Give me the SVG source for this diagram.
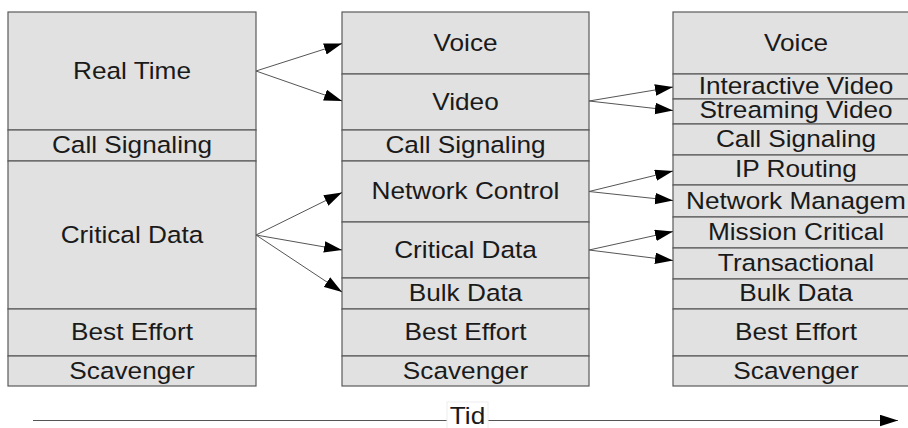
<svg xmlns="http://www.w3.org/2000/svg" width="908" height="428" viewBox="0 0 908 428">
<defs>
<style>
.c rect{fill:#e1e1e1;stroke:#5a5a5a;stroke-width:1.2}
text{font-family:"Liberation Sans",Arial,sans-serif;font-size:24.5px;fill:#1a1a1a;text-anchor:middle}
.con line{stroke:#555;stroke-width:1}
</style>
<marker id="ah" markerUnits="userSpaceOnUse" markerWidth="19" markerHeight="12" refX="18" refY="5.75" orient="auto">
<path d="M0,0 L18,5.75 L0,11.5 z" fill="#000"/>
</marker>
</defs>
<rect width="908" height="428" fill="#fff"/>

<g id="col1">
<g id="c1-realtime" class="c"><rect x="8" y="12" width="248" height="118"/><text transform="translate(132 79) scale(1.07 1)">Real Time</text></g>
<g id="c1-callsig" class="c"><rect x="8" y="130" width="248" height="31"/><text transform="translate(132 153) scale(1.07 1)">Call Signaling</text></g>
<g id="c1-critical" class="c"><rect x="8" y="161" width="248" height="148"/><text transform="translate(132 243) scale(1.07 1)">Critical Data</text></g>
<g id="c1-besteffort" class="c"><rect x="8" y="309" width="248" height="47"/><text transform="translate(132 340) scale(1.07 1)">Best Effort</text></g>
<g id="c1-scavenger" class="c"><rect x="8" y="356" width="248" height="30"/><text transform="translate(132 379) scale(1.07 1)">Scavenger</text></g>
</g>

<g id="col2">
<g id="c2-voice" class="c"><rect x="342" y="12" width="247" height="62"/><text transform="translate(465.5 51) scale(1.07 1)">Voice</text></g>
<g id="c2-video" class="c"><rect x="342" y="74" width="247" height="56"/><text transform="translate(465.5 110) scale(1.07 1)">Video</text></g>
<g id="c2-callsig" class="c"><rect x="342" y="130" width="247" height="31"/><text transform="translate(465.5 153) scale(1.07 1)">Call Signaling</text></g>
<g id="c2-netctrl" class="c"><rect x="342" y="161" width="247" height="61"/><text transform="translate(465.5 199) scale(1.07 1)">Network Control</text></g>
<g id="c2-critical" class="c"><rect x="342" y="222" width="247" height="56"/><text transform="translate(465.5 258) scale(1.07 1)">Critical Data</text></g>
<g id="c2-bulk" class="c"><rect x="342" y="278" width="247" height="31"/><text transform="translate(465.5 301) scale(1.07 1)">Bulk Data</text></g>
<g id="c2-besteffort" class="c"><rect x="342" y="309" width="247" height="47"/><text transform="translate(465.5 340) scale(1.07 1)">Best Effort</text></g>
<g id="c2-scavenger" class="c"><rect x="342" y="356" width="247" height="30"/><text transform="translate(465.5 379) scale(1.07 1)">Scavenger</text></g>
</g>

<g id="col3">
<g id="c3-voice" class="c"><rect x="673" y="12" width="247" height="62"/><text transform="translate(796 51) scale(1.07 1)">Voice</text></g>
<g id="c3-interactive" class="c"><rect x="673" y="74" width="247" height="25"/><text transform="translate(796 94) scale(1.07 1)">Interactive Video</text></g>
<g id="c3-streaming" class="c"><rect x="673" y="99" width="247" height="25"/><text transform="translate(796 118) scale(1.07 1)">Streaming Video</text></g>
<g id="c3-callsig" class="c"><rect x="673" y="124" width="247" height="31"/><text transform="translate(796 147) scale(1.07 1)">Call Signaling</text></g>
<g id="c3-iprouting" class="c"><rect x="673" y="155" width="247" height="30"/><text transform="translate(796 177) scale(1.07 1)">IP Routing</text></g>
<g id="c3-netmgmt" class="c"><rect x="673" y="185" width="247" height="32"/><text transform="translate(796 209) scale(1.07 1)">Network Managem</text></g>
<g id="c3-mission" class="c"><rect x="673" y="217" width="247" height="31"/><text transform="translate(796 240) scale(1.07 1)">Mission Critical</text></g>
<g id="c3-transactional" class="c"><rect x="673" y="248" width="247" height="31"/><text transform="translate(796 271) scale(1.07 1)">Transactional</text></g>
<g id="c3-bulk" class="c"><rect x="673" y="279" width="247" height="30"/><text transform="translate(796 301) scale(1.07 1)">Bulk Data</text></g>
<g id="c3-besteffort" class="c"><rect x="673" y="309" width="247" height="47"/><text transform="translate(796 340) scale(1.07 1)">Best Effort</text></g>
<g id="c3-scavenger" class="c"><rect x="673" y="356" width="247" height="30"/><text transform="translate(796 379) scale(1.07 1)">Scavenger</text></g>
</g>

<g id="connectors" class="con">
<line x1="256" y1="71" x2="342" y2="43.5" marker-end="url(#ah)"/>
<line x1="256" y1="71" x2="342" y2="101" marker-end="url(#ah)"/>
<line x1="256" y1="235" x2="342" y2="192.5" marker-end="url(#ah)"/>
<line x1="256" y1="235" x2="342" y2="250" marker-end="url(#ah)"/>
<line x1="256" y1="235" x2="342" y2="292" marker-end="url(#ah)"/>
<line x1="589" y1="101" x2="673" y2="87" marker-end="url(#ah)"/>
<line x1="589" y1="101" x2="673" y2="110.5" marker-end="url(#ah)"/>
<line x1="589" y1="191.5" x2="673" y2="171" marker-end="url(#ah)"/>
<line x1="589" y1="191.5" x2="673" y2="200.5" marker-end="url(#ah)"/>
<line x1="589" y1="250" x2="673" y2="231.5" marker-end="url(#ah)"/>
<line x1="589" y1="250" x2="673" y2="260.5" marker-end="url(#ah)"/>
<line x1="33" y1="420.5" x2="898" y2="420.5" marker-end="url(#ah)"/>
</g>

<g id="timeline-label">
<rect x="447" y="402" width="41" height="27" fill="#fff" stroke="#eee" stroke-width="1"/>
<text transform="translate(467.5 424) scale(1.07 1)">Tid</text>
</g>
</svg>
